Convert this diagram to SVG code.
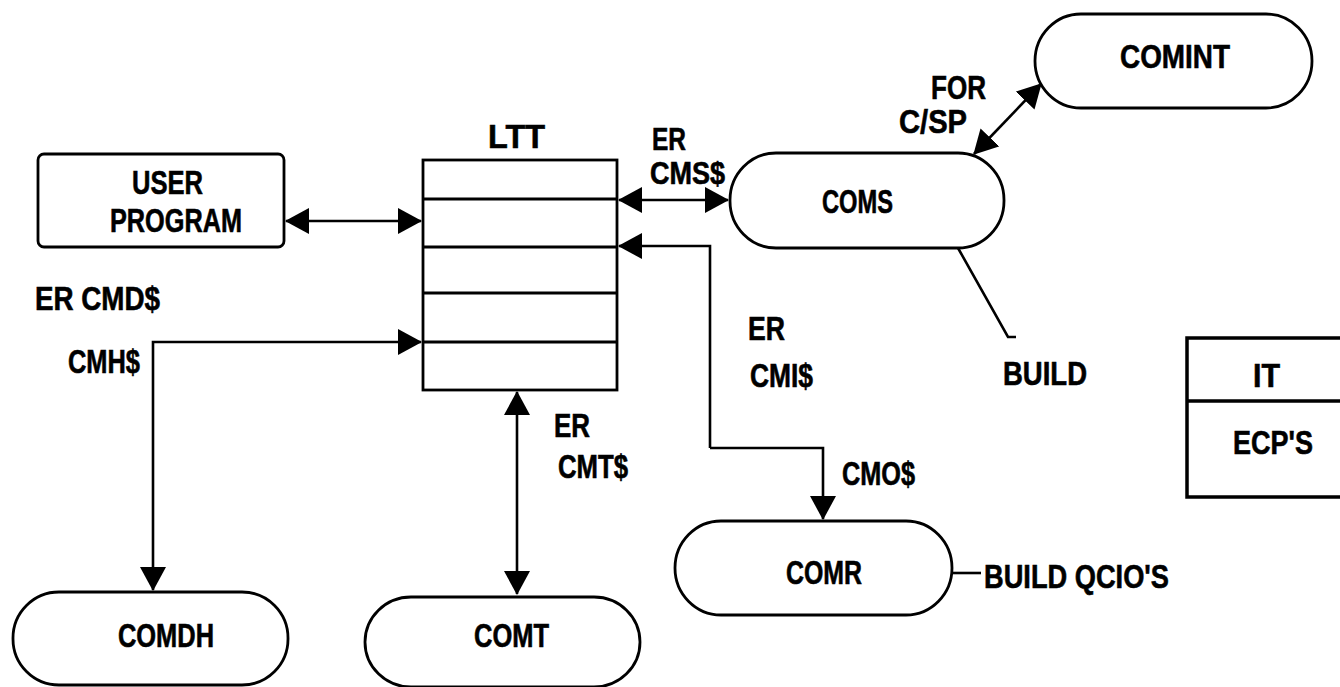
<svg xmlns="http://www.w3.org/2000/svg" width="1340" height="687" viewBox="0 0 1340 687">
<defs>
<style>
.n{fill:none;stroke:#000;stroke-width:2.8}
.c{fill:none;stroke:#000;stroke-width:2.6}
.ah{marker-start:url(#a);marker-end:url(#a)}
.ae{marker-end:url(#a)}
text{font-family:"Liberation Sans",Arial,sans-serif;font-weight:bold;font-size:33px;fill:#000;stroke:#000;stroke-width:0.6}
.s{font-size:31px}
</style>
<marker id="a" viewBox="0 0 24 26" refX="23" refY="13" markerWidth="24" markerHeight="26" orient="auto-start-reverse" markerUnits="userSpaceOnUse">
<path d="M0,0 L24,13 L0,26 z" fill="#000"/>
</marker>
</defs>
<rect width="1340" height="687" fill="#fff"/>

<g id="connectors">
<path class="c ah" d="M286,221 H421"/>
<path class="c ah" d="M619,200 H728"/>
<path class="c ae" d="M710,448 V246 H619"/>
<path class="c ae" d="M710,448 H823 V519"/>
<path class="c ah" d="M153,590 V342 H421"/>
<path class="c ah" d="M517,392 V594"/>
<path class="c ah" d="M974,154 L1041,84"/>
<path class="c" d="M958,248 L1008,337 H1016"/>
<path class="c" d="M952,573 H981"/>
</g>

<g id="user-program">
<rect class="n" x="38" y="154" width="246" height="93" rx="6"/>
<text x="132" y="194" textLength="71" lengthAdjust="spacingAndGlyphs">USER</text>
<text x="110" y="232" textLength="132" lengthAdjust="spacingAndGlyphs">PROGRAM</text>
</g>

<g id="ltt">
<text x="488" y="148" textLength="57" lengthAdjust="spacingAndGlyphs" style="font-size:34px">LTT</text>
<rect class="n" x="423" y="160" width="194" height="230"/>
<path class="n" d="M423,199 H617 M423,247 H617 M423,293 H617 M423,342 H617"/>
</g>

<g id="coms">
<rect class="n" x="730" y="153" width="274" height="95" rx="46" ry="47"/>
<text x="822" y="213" textLength="71" lengthAdjust="spacingAndGlyphs">COMS</text>
</g>

<g id="comint">
<rect class="n" x="1035" y="14" width="277" height="94" rx="46" ry="47"/>
<text x="1120" y="68" textLength="110" lengthAdjust="spacingAndGlyphs">COMINT</text>
</g>

<g id="comr">
<rect class="n" x="675" y="521" width="277" height="94" rx="46" ry="47"/>
<text x="786" y="584" textLength="76" lengthAdjust="spacingAndGlyphs">COMR</text>
</g>

<g id="comdh">
<rect class="n" x="13" y="592" width="275" height="93" rx="46" ry="46"/>
<text x="118" y="647" textLength="96" lengthAdjust="spacingAndGlyphs">COMDH</text>
</g>

<g id="comt">
<rect class="n" x="365" y="597" width="275" height="90" rx="46" ry="46"/>
<text x="474" y="647" textLength="75" lengthAdjust="spacingAndGlyphs">COMT</text>
</g>

<g id="it-table">
<path fill="none" stroke="#000" stroke-width="3.5" d="M1345,338 H1187 V497 H1345 M1187,401 H1345"/>
<text x="1253" y="387" textLength="27" lengthAdjust="spacingAndGlyphs">IT</text>
<text x="1233" y="454" textLength="80" lengthAdjust="spacingAndGlyphs">ECP'S</text>
</g>

<g id="labels">
<text x="35" y="310" textLength="125" lengthAdjust="spacingAndGlyphs">ER CMD$</text>
<text x="68" y="373" textLength="72" lengthAdjust="spacingAndGlyphs">CMH$</text>
<text class="s" x="652" y="150" textLength="34" lengthAdjust="spacingAndGlyphs">ER</text>
<text class="s" x="650" y="184" textLength="75" lengthAdjust="spacingAndGlyphs">CMS$</text>
<text x="931" y="99" textLength="55" lengthAdjust="spacingAndGlyphs">FOR</text>
<text x="899" y="133" textLength="68" lengthAdjust="spacingAndGlyphs">C/SP</text>
<text x="748" y="340" textLength="37" lengthAdjust="spacingAndGlyphs">ER</text>
<text x="750" y="387" textLength="63" lengthAdjust="spacingAndGlyphs">CMI$</text>
<text x="1003" y="385" textLength="84" lengthAdjust="spacingAndGlyphs">BUILD</text>
<text x="554" y="437" textLength="36" lengthAdjust="spacingAndGlyphs">ER</text>
<text x="558" y="478" textLength="70" lengthAdjust="spacingAndGlyphs">CMT$</text>
<text x="842" y="485" textLength="73" lengthAdjust="spacingAndGlyphs">CMO$</text>
<text x="984" y="588" textLength="185" lengthAdjust="spacingAndGlyphs">BUILD QCIO'S</text>
</g>
</svg>
